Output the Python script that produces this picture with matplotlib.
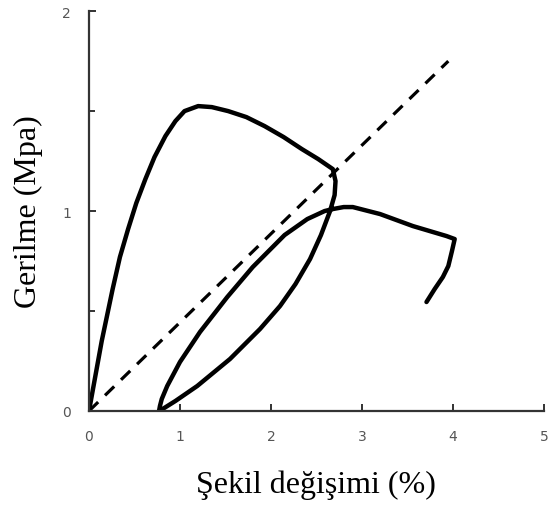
import matplotlib.pyplot as plt
from matplotlib.ticker import MultipleLocator

# stress-strain loop (strain %, stress MPa)
strain = [0.0, 0.06, 0.14, 0.26, 0.34, 0.43, 0.52, 0.62, 0.72, 0.84, 0.95, 1.05,
          1.2, 1.35, 1.53, 1.73, 1.93, 2.14, 2.34, 2.52, 2.68, 2.71, 2.70, 2.65,
          2.55, 2.43, 2.27, 2.10, 1.88, 1.55, 1.19, 0.95, 0.81, 0.77, 0.78, 0.80,
          0.86, 1.0, 1.22, 1.52, 1.8, 2.15, 2.4, 2.59, 2.68, 2.80, 2.90, 3.2,
          3.56, 3.93, 4.02, 3.99, 3.95, 3.89, 3.80, 3.71]
stress = [0.0, 0.15, 0.35, 0.61, 0.77, 0.91, 1.04, 1.16, 1.27, 1.375, 1.45, 1.5,
          1.525, 1.52, 1.5, 1.47, 1.425, 1.37, 1.31, 1.26, 1.21, 1.15, 1.08, 1.0,
          0.88, 0.76, 0.635, 0.525, 0.41, 0.26, 0.125, 0.05, 0.01, 0.0, 0.025, 0.06,
          0.125, 0.245, 0.395, 0.57, 0.72, 0.88, 0.96, 1.0, 1.01, 1.02, 1.02, 0.985,
          0.925, 0.875, 0.86, 0.80, 0.725, 0.67, 0.61, 0.545]

# secant line
line_x = [0.0, 3.95]
line_y = [0.0, 1.75]

fig = plt.figure(figsize=(5.48, 5.10), dpi=100)
ax = fig.add_axes([0.1624, 0.1922, 0.830, 0.784])

ax.plot(strain, stress, color='black', lw=3.2, solid_joinstyle='round', solid_capstyle='round')
ax.plot(line_x, line_y, color='black', lw=2.3, dashes=(4, 3))

ax.set_xlim(0, 5)
ax.set_ylim(0, 2)
for s in ['top', 'right']:
    ax.spines[s].set_visible(False)
for s in ['left', 'bottom']:
    ax.spines[s].set_color('#333333')
    ax.spines[s].set_linewidth(1.6)

ax.xaxis.set_major_locator(MultipleLocator(1))
ax.yaxis.set_major_locator(MultipleLocator(1))
ax.yaxis.set_minor_locator(MultipleLocator(0.5))
ax.tick_params(which='both', direction='in', color='#333333', width=1.4,
               labelsize=10, labelcolor='#555555')
ax.tick_params(which='major', length=5)
ax.tick_params(which='minor', length=4)
ax.tick_params(axis='x', pad=13)
ax.tick_params(axis='y', pad=13)

ax.set_xlabel('Şekil değişimi (%)', family='Liberation Serif', fontsize=23, labelpad=19)
ax.set_ylabel('Gerilme (Mpa)', family='Liberation Serif', fontsize=23, labelpad=14)

fig.savefig('out.png', dpi=100)
